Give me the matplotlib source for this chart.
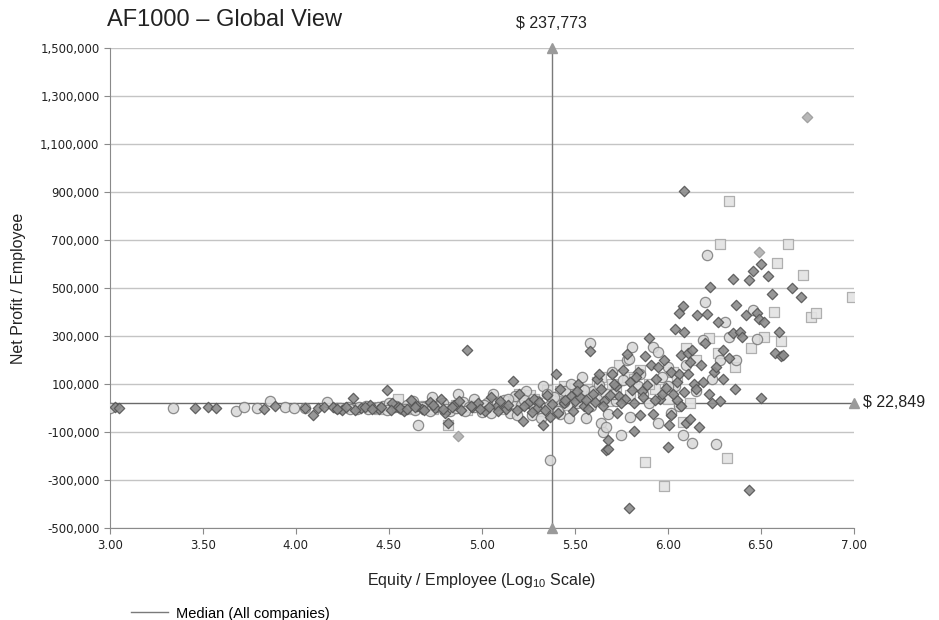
import numpy as np
import matplotlib
matplotlib.use("Agg")
import matplotlib.pyplot as plt
from matplotlib.ticker import FuncFormatter
from matplotlib.lines import Line2D

plt.rcParams['font.family'] = ['Liberation Sans', 'DejaVu Sans']
plt.rcParams['mathtext.fontset'] = 'custom'
plt.rcParams['mathtext.rm'] = 'Liberation Sans'

# medians (all companies)
median_x = np.log10(237773)
median_y = 22849

# diamonds: log10(equity/employee), net profit/employee in thousands
diamond_x = [3.03, 3.05, 3.46, 3.53, 3.57, 3.83, 3.89, 4.05, 4.09, 4.12, 4.15, 4.20, 4.25, 4.31,
             4.35, 4.40, 4.45, 4.49, 4.52, 4.55, 4.58, 4.62, 4.65, 4.68, 4.72, 4.75, 4.78, 4.80,
             4.82, 4.85, 4.88, 4.92, 4.95, 4.98, 5.02, 5.05, 5.08, 5.10, 5.13, 5.17, 5.20, 5.22,
             5.25, 5.28, 5.30, 5.33, 5.35, 5.37, 5.40, 5.42, 5.44,
             5.48, 5.50, 5.52, 5.55, 5.58, 5.60, 5.62, 5.64, 5.66, 5.67, 5.68, 5.70, 5.72, 5.74,
             5.76, 5.78, 5.79, 5.80, 5.82, 5.84, 5.86, 5.88, 5.90, 5.91, 5.92, 5.94, 5.96, 5.98,
             6.00, 6.02, 6.04, 6.06, 6.07, 6.08, 6.09, 6.10, 6.11, 6.12, 6.14, 6.16, 6.17, 6.18,
             6.21, 6.22, 6.23, 6.25, 6.27, 6.28, 6.30, 6.33, 6.35, 6.36, 6.37, 6.39, 6.40, 6.42,
             6.44, 6.46, 6.48, 6.49, 6.50, 6.50, 6.52, 6.54, 6.56, 6.58, 6.60, 6.61, 6.62, 6.67,
             6.72, 6.09, 6.35, 6.44, 6.12, 6.05, 6.15, 6.24, 6.30, 6.26, 6.20, 6.13, 6.06, 6.02,
             6.07, 5.68, 5.82,
             4.22, 4.27, 4.32, 4.37, 4.41, 4.46, 4.51, 4.56, 4.60, 4.64, 4.69, 4.74, 4.79, 4.84,
             4.89, 4.94, 4.99, 5.04, 5.09, 5.14, 5.19, 5.23, 5.27, 5.31, 5.34, 5.38, 5.41, 5.45,
             5.49, 5.53, 5.57, 5.61, 5.65, 5.69, 5.73, 5.77, 5.81, 5.85, 5.89, 5.93, 5.97, 6.01,
             6.05, 6.09,
             5.51, 5.56, 5.63, 5.71, 5.75, 5.83, 5.87, 5.95, 5.99, 6.03, 6.11, 6.19]
diamond_y = [5, 2, 2, 3, 0, -5, 8, 2, -29, 0, 3, 5, -8, 44,
             2, 12, -3, 75, 20, 5, -10, 35, 10, -5, 25, 0, 40, -20,
             -60, 15, 30, 242, 5, 20, -10, 45, 10, 30, -5, 112, 60, -53,
             20, 40, 0, -69, 55, -35, 142, 80, 20,
             50, 30, 100, 10, 239, 60, 120, 80, 30, -175, -170, 140, 90, 50,
             160, 225, -415, 110, 20, 150, 70, 218, 290, 180, -25, 120, 40, 200,
             -161, 150, 329, 397, 220, 426, 318, -60, 230, 190, 100, 388, -80, 180,
             392, 60, 503, 150, 357, 30, 240, 210, 311, 80, 431, 318, 294, 386,
             -339, 571, 397, 373, 600, 44, 357, 549, 475, 228, 318, 215, 220, 499,
             461, 905, 536, 533, -45, 35, 80, 20, 120, 170, 270, 240, 140, -30,
             10, -133, -95,
             -2, 3, -6, 4, -4, 6, -8, 2, -3, 5, -7, 12, -4, 3,
             -9, 8, -2, 4, -12, 15, -6, 9, -15, 25, -8, 18, -20, 35,
             -10, 45, -5, 25, 10, 55, -20, 40, 75, -30, 95, 35, 60, -70,
             110, 65,
             70, 35, 140, 100, 20, 130, 45, 170, 85, 60, 140, 110]

# a few paler diamonds
light_diamond_x = [6.75, 6.49, 4.87]
light_diamond_y = [1211, 649, -117]

circle_x = [3.00, 3.34, 3.68, 3.72, 3.79, 3.86, 3.94, 3.99, 4.05, 4.17, 4.22, 4.28, 4.33, 4.38,
            4.42, 4.47, 4.50, 4.53, 4.57, 4.60, 4.63, 4.66, 4.70, 4.73, 4.76, 4.79, 4.83, 4.87,
            4.90, 4.93, 4.96, 5.00, 5.03, 5.06, 5.09, 5.12, 5.15, 5.18, 5.21, 5.24, 5.27, 5.30,
            5.33, 5.36, 5.37, 5.39, 5.42, 5.45, 5.48, 5.51, 5.54, 5.56, 5.58, 5.60, 5.62, 5.64,
            5.65, 5.67, 5.70, 5.72, 5.75, 5.78, 5.79, 5.81, 5.84, 5.87, 5.92, 5.95, 5.97, 6.00,
            6.02, 6.04, 6.06, 6.08, 6.10, 6.13, 6.15, 6.19, 6.20, 6.21, 6.24, 6.26, 6.28, 6.31,
            6.33, 6.37, 6.46, 6.48,
            4.24, 4.29, 4.34, 4.39, 4.44, 4.49, 4.54, 4.59, 4.64, 4.68, 4.72, 4.77, 4.81, 4.86,
            4.91, 4.96, 5.01, 5.05, 5.10, 5.14, 5.19, 5.23, 5.28, 5.32, 5.35, 5.41, 5.44, 5.47,
            5.50, 5.55, 5.59, 5.63, 5.68, 5.71, 5.76, 5.80, 5.85, 5.90, 5.95, 6.00]
circle_y = [1, -1, -12, 3, -1, 31, 3, 2, 0, 26, 2, 5, -3, 10,
            0, 8, 20, 5, -5, 15, 30, -69, 10, 45, 5, 20, -10, 60,
            25, 5, 40, -15, 20, 60, 0, 35, -20, 50, 15, 70, -30, 30,
            90, 10, -218, 45, -25, 70, 100, 20, 130, -40, 269, 70, 40, -60,
            -100, -80, 150, 30, -110, 200, 203, 256, 90, 60, 256, 235, 130, 170,
            -20, 90, 10, -110, 180, -145, 70, 282, 443, 637, 120, -150, 200, 360,
            297, 200, 408, 287,
            0, -3, 6, -5, 3, -6, 10, -2, -8, 4, -12, 9, -5, 2,
            -14, 6, 15, -22, 12, 40, -28, 35, 5, -40, 60, -10, 25, -40,
            55, 75, 10, 95, -25, 60, 115, -35, 140, 20, -60, 90]

square_x = [4.40, 4.55, 4.62, 4.70, 4.78, 4.82, 4.88, 4.95, 5.02, 5.08, 5.15, 5.20, 5.26, 5.30,
            5.35, 5.40, 5.44, 5.47, 5.52, 5.57, 5.62, 5.66, 5.70, 5.74, 5.78, 5.82, 5.88, 5.93,
            5.98, 6.03, 6.08, 6.10, 6.15, 6.22, 6.27, 6.28, 6.32, 6.33, 6.36, 6.45, 6.52, 6.57,
            6.59, 6.61, 6.65, 6.73, 6.77, 6.80, 6.99,
            4.45, 4.52, 4.60, 4.66, 4.74, 4.81, 4.86, 4.92, 4.98, 5.05, 5.11, 5.17, 5.23, 5.28,
            5.33, 5.38, 5.42, 5.46, 5.50, 5.54, 5.59, 5.64, 5.68, 5.72, 5.80, 5.85, 5.90, 6.00,
            6.05, 6.12]
square_y = [5, 40, -5, 8, 15, -70, 0, 12, 5, 20, 30, 60, 55, 20,
            75, 30, 90, 60, 40, 80, 110, 60, 100, 180, 130, 120, -225, 80,
            -325, 150, -57, 250, 200, 290, 230, 683, -207, 864, 170, 250, 297, 401,
            603, 281, 683, 555, 380, 394, 464,
            -2, 6, 2, 10, -3, 5, 14, -6, 8, 25, -4, 10, 22, 38,
            -12, 45, 70, 15, 85, 25, 50, 130, 30, 85, 55, 160, 100, 40,
            130, 20]

y_ticks = list(range(-500000, 1500001, 200000))
x_ticks = [3.0, 3.5, 4.0, 4.5, 5.0, 5.5, 6.0, 6.5, 7.0]

fig = plt.figure(figsize=(9.39, 6.2), dpi=100)
ax = fig.add_axes([0.117, 0.148, 0.792, 0.775])

ax.set_xlim(3, 7)
ax.set_ylim(-500000, 1500000)
ax.set_yticks(y_ticks)
ax.set_xticks(x_ticks)
ax.yaxis.set_major_formatter(FuncFormatter(lambda v, p: f"{int(v):,}"))
ax.xaxis.set_major_formatter(FuncFormatter(lambda v, p: f"{v:.2f}"))
ax.grid(axis='y', color='#c4c4c4', linewidth=1.0)
ax.set_axisbelow(True)
for s in ['top', 'right']:
    ax.spines[s].set_visible(False)
for s in ['left', 'bottom']:
    ax.spines[s].set_color('#8a8a8a')
ax.tick_params(axis='both', colors='#8a8a8a', labelcolor='#222222', labelsize=8.5,
               length=4, direction='out')
for lab in ax.get_xticklabels() + ax.get_yticklabels():
    lab.set_family('DejaVu Sans')

k = 1000
ax.scatter(square_x, np.array(square_y) * k, marker='s', s=52, facecolor='#e3e3e3',
           edgecolor='#a8a8a8', linewidth=0.9, alpha=0.9, zorder=3)
ax.scatter(circle_x, np.array(circle_y) * k, marker='o', s=55, facecolor='#d8d8d8',
           edgecolor='#7a7a7a', linewidth=0.9, alpha=0.85, zorder=4)
ax.scatter(diamond_x, np.array(diamond_y) * k, marker='D', s=28, facecolor='#8c8c8c',
           edgecolor='#555555', linewidth=0.9, alpha=0.9, zorder=5)
ax.scatter(light_diamond_x, np.array(light_diamond_y) * k, marker='D', s=28, facecolor='#b8b8b8',
           edgecolor='#a0a0a0', linewidth=0.9, zorder=5)

# median lines
ax.plot([median_x, median_x], [-500000, 1500000], color='#7a7a7a', linewidth=1.0, zorder=2)
ax.plot([3, 7], [median_y, median_y], color='#6a6a6a', linewidth=1.0, zorder=2)
ax.plot([median_x, median_x], [-500000, 1500000], linestyle='none', marker='^',
        markersize=7, color='#9a9a9a', clip_on=False, zorder=6)
ax.plot([7], [median_y], linestyle='none', marker='^', markersize=7, color='#9a9a9a',
        clip_on=False, zorder=6)

ax.annotate("$ 237,773", xy=(median_x, 1500000), xytext=(0, 12), textcoords='offset points',
            ha='center', va='bottom', fontsize=11.5, color='#222222')
ax.annotate("$ 22,849", xy=(7, median_y), xytext=(7, 0), textcoords='offset points',
            ha='left', va='center', fontsize=11.5, color='#222222')

ax.set_xlabel(r"Equity / Employee (Log$_{10}$ Scale)", fontsize=11.5, labelpad=14, color='#222222')
ax.set_ylabel("Net Profit / Employee", fontsize=11.5, labelpad=10, color='#222222')

fig.text(0.114, 0.967, "AF1000 \u2013 Global View", fontsize=17, va='center', ha='left',
         color='#222222')

handle = Line2D([], [], color='#7a7a7a', linewidth=1.0)
fig.legend([handle], ["Median (All companies)"], loc='lower left', bbox_to_anchor=(0.125, -0.022),
           frameon=False, fontsize=10.5, handlelength=2.6, handletextpad=0.5)

fig.savefig("out.png", dpi=100)
